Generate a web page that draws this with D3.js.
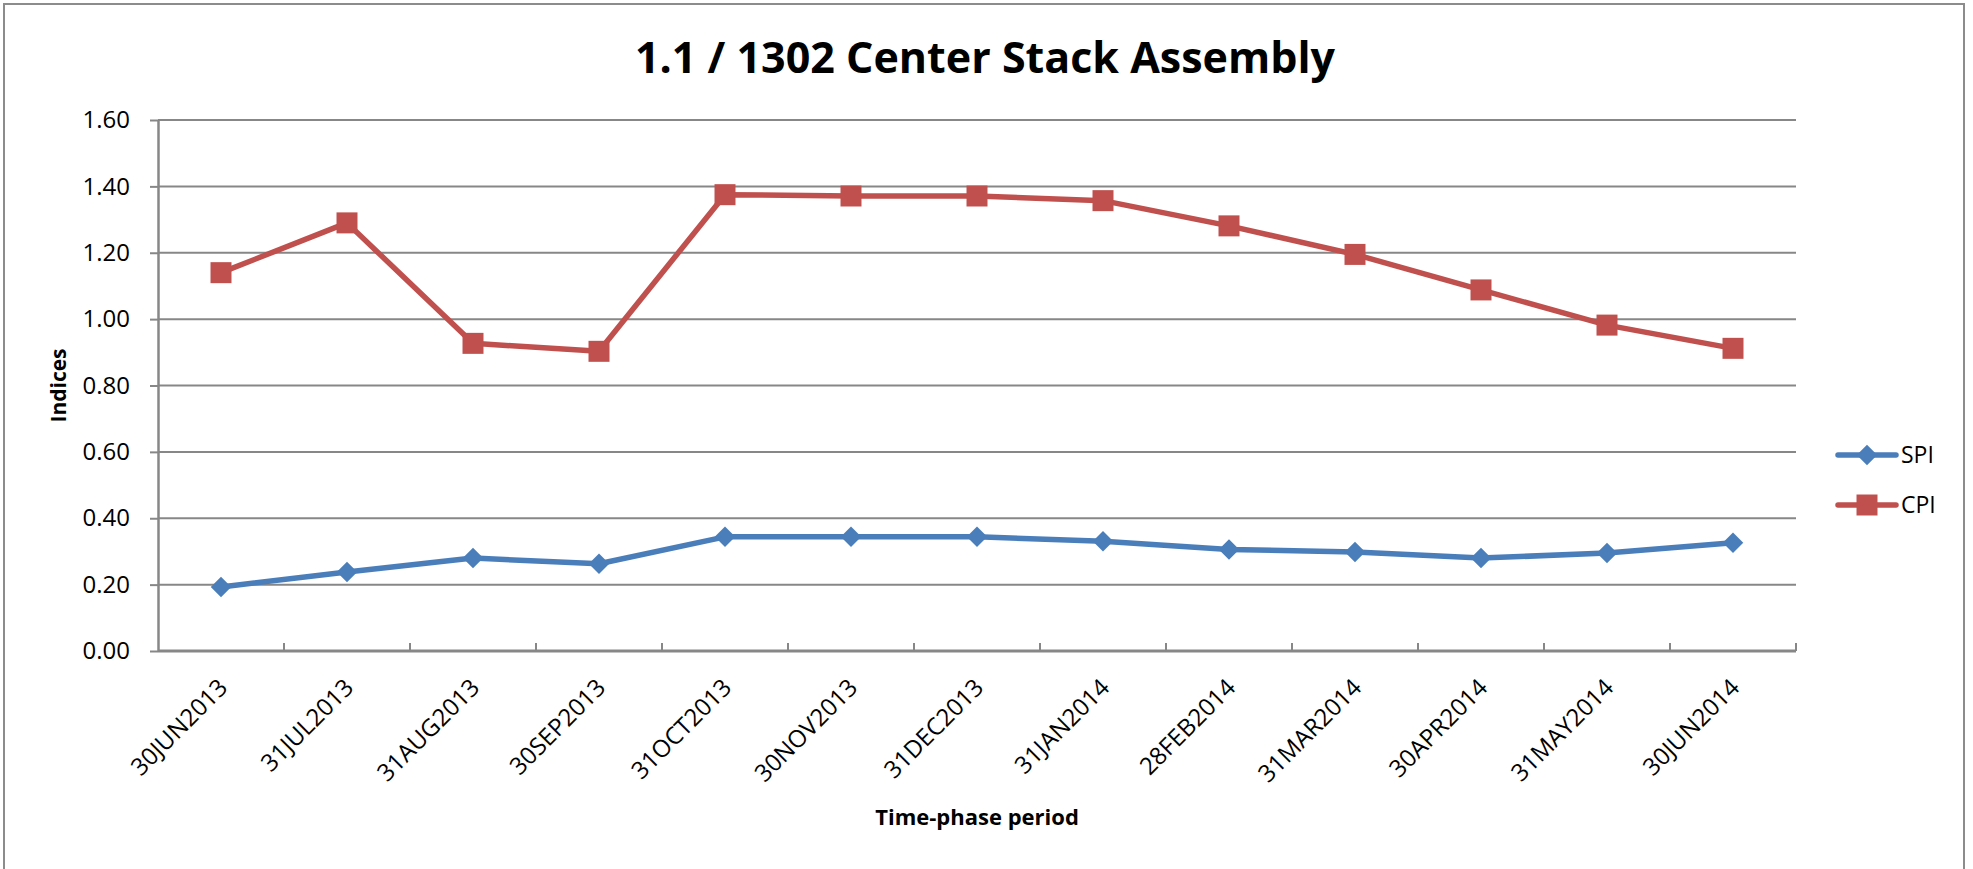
<!DOCTYPE html>
<html>
<head>
<meta charset="utf-8">
<script src="https://cdn.jsdelivr.net/npm/d3@7"></script>
<style>
  body { margin: 0; background: #fff; }
  text { font-family: "Open Sans", "Noto Sans", sans-serif; fill: #000; }
</style>
</head>
<body>
<script>
// chart data
var categories = ["30JUN2013", "31JUL2013", "31AUG2013", "30SEP2013", "31OCT2013", "30NOV2013",
                  "31DEC2013", "31JAN2014", "28FEB2014", "31MAR2014", "30APR2014", "31MAY2014", "30JUN2014"];
var spiValues = [0.193, 0.238, 0.280, 0.263, 0.344, 0.344, 0.344, 0.331, 0.306, 0.298, 0.280, 0.295, 0.326];
var cpiValues = [1.140, 1.290, 0.927, 0.903, 1.375, 1.371, 1.371, 1.357, 1.281, 1.195, 1.088, 0.982, 0.912];
var yTicks = [0, 0.2, 0.4, 0.6, 0.8, 1.0, 1.2, 1.4, 1.6];
var seriesNames = ["SPI", "CPI"];

var width = 1973, height = 869;
var margin = { top: 120, right: 177, bottom: 218, left: 158 };
var gridColor = "#878787";
var colors = { SPI: "#4A7EBB", CPI: "#C0504D" };

var svg = d3.select("body").append("svg")
    .attr("width", width)
    .attr("height", height);

// chart frame
svg.append("rect")
    .attr("x", 4).attr("y", 4)
    .attr("width", 1960).attr("height", 900)
    .attr("fill", "none")
    .attr("stroke", "#8c8c8c")
    .attr("stroke-width", 2);

var x = d3.scaleBand()
    .domain(categories)
    .range([margin.left, width - margin.right]);

var y = d3.scaleLinear()
    .domain([0, 1.6])
    .range([height - margin.bottom, margin.top]);

// horizontal gridlines
svg.append("g").selectAll("line")
    .data(yTicks.filter(function(d) { return d > 0; }))
    .enter().append("line")
    .attr("x1", margin.left).attr("x2", width - margin.right)
    .attr("y1", function(d) { return y(d); })
    .attr("y2", function(d) { return y(d); })
    .attr("stroke", gridColor)
    .attr("stroke-width", 2);

// y axis
var yAxis = svg.append("g")
    .attr("transform", "translate(" + margin.left + ",0)")
    .call(d3.axisLeft(y).tickValues(yTicks).tickFormat(d3.format(".2f")).tickSizeInner(8).tickSizeOuter(0).tickPadding(20));
yAxis.select(".domain").attr("stroke", gridColor).attr("stroke-width", 2.5);
yAxis.selectAll(".tick line").attr("stroke", gridColor).attr("stroke-width", 2);
yAxis.selectAll(".tick text")
    .style("font-family", "'Open Sans', sans-serif")
    .style("font-size", "24px")
    .attr("fill", "#000");

// x axis: labels centred on categories, ticks on the category borders
var xAxis = svg.append("g")
    .attr("transform", "translate(0," + (height - margin.bottom) + ")")
    .call(d3.axisBottom(x).tickSize(0).tickPadding(0));
xAxis.select(".domain").remove();
xAxis.selectAll(".tick text")
    .style("font-family", "'Open Sans', sans-serif")
    .style("font-size", "24px")
    .attr("fill", "#000")
    .attr("text-anchor", "end")
    .attr("dy", null)
    .attr("transform", "translate(8,38) rotate(-45)");

svg.append("line")
    .attr("x1", margin.left).attr("x2", width - margin.right)
    .attr("y1", y(0)).attr("y2", y(0))
    .attr("stroke", gridColor).attr("stroke-width", 3);

svg.append("g").selectAll("line")
    .data(categories)
    .enter().append("line")
    .attr("x1", function(d) { return x(d) + x.bandwidth(); })
    .attr("x2", function(d) { return x(d) + x.bandwidth(); })
    .attr("y1", y(0)).attr("y2", y(0) - 8)
    .attr("stroke", gridColor).attr("stroke-width", 2);

// series
var series = [
  { name: "SPI", values: spiValues, symbol: d3.symbol().type(d3.symbolSquare).size(210), rotate: 45 },
  { name: "CPI", values: cpiValues, symbol: d3.symbol().type(d3.symbolSquare).size(441), rotate: 0 }
];

var line = d3.line()
    .x(function(d, i) { return x(categories[i]) + x.bandwidth() / 2; })
    .y(function(d) { return y(d); });

series.forEach(function(s) {
  svg.append("path")
    .datum(s.values)
    .attr("d", line)
    .attr("fill", "none")
    .attr("stroke", colors[s.name])
    .attr("stroke-width", 5.5)
    .attr("stroke-linejoin", "round");

  svg.append("g").selectAll("path")
    .data(s.values)
    .enter().append("path")
    .attr("d", s.symbol)
    .attr("fill", colors[s.name])
    .attr("transform", function(d, i) {
      return "translate(" + (x(categories[i]) + x.bandwidth() / 2) + "," + y(d) + ") rotate(" + s.rotate + ")";
    });
});

// legend
var legend = svg.append("g").selectAll("g")
    .data(series)
    .enter().append("g")
    .attr("transform", function(d, i) { return "translate(1838," + (455 + i * 50) + ")"; });

legend.append("line")
    .attr("x1", 0).attr("x2", 58)
    .attr("stroke", function(d) { return colors[d.name]; })
    .attr("stroke-width", 5.5)
    .attr("stroke-linecap", "round");

legend.append("path")
    .attr("d", function(d) { return d.symbol(); })
    .attr("fill", function(d) { return colors[d.name]; })
    .attr("transform", function(d) { return "translate(29,0) rotate(" + d.rotate + ")"; });

legend.append("text")
    .attr("x", 63)
    .attr("dy", "0.35em")
    .style("font-size", "23px")
    .text(function(d) { return d.name; });

// titles
svg.append("text")
    .attr("x", 985).attr("y", 73)
    .attr("text-anchor", "middle")
    .style("font-size", "43px")
    .style("font-weight", "bold")
    .text("1.1 / 1302 Center Stack Assembly");

svg.append("text")
    .attr("x", (margin.left + width - margin.right) / 2)
    .attr("y", 825)
    .attr("text-anchor", "middle")
    .style("font-size", "22px")
    .style("font-weight", "bold")
    .text("Time-phase period");

svg.append("text")
    .attr("transform", "translate(66," + y(0.8) + ") rotate(-90)")
    .attr("text-anchor", "middle")
    .style("font-size", "21px")
    .style("font-weight", "bold")
    .text("Indices");
</script>
</body>
</html>
